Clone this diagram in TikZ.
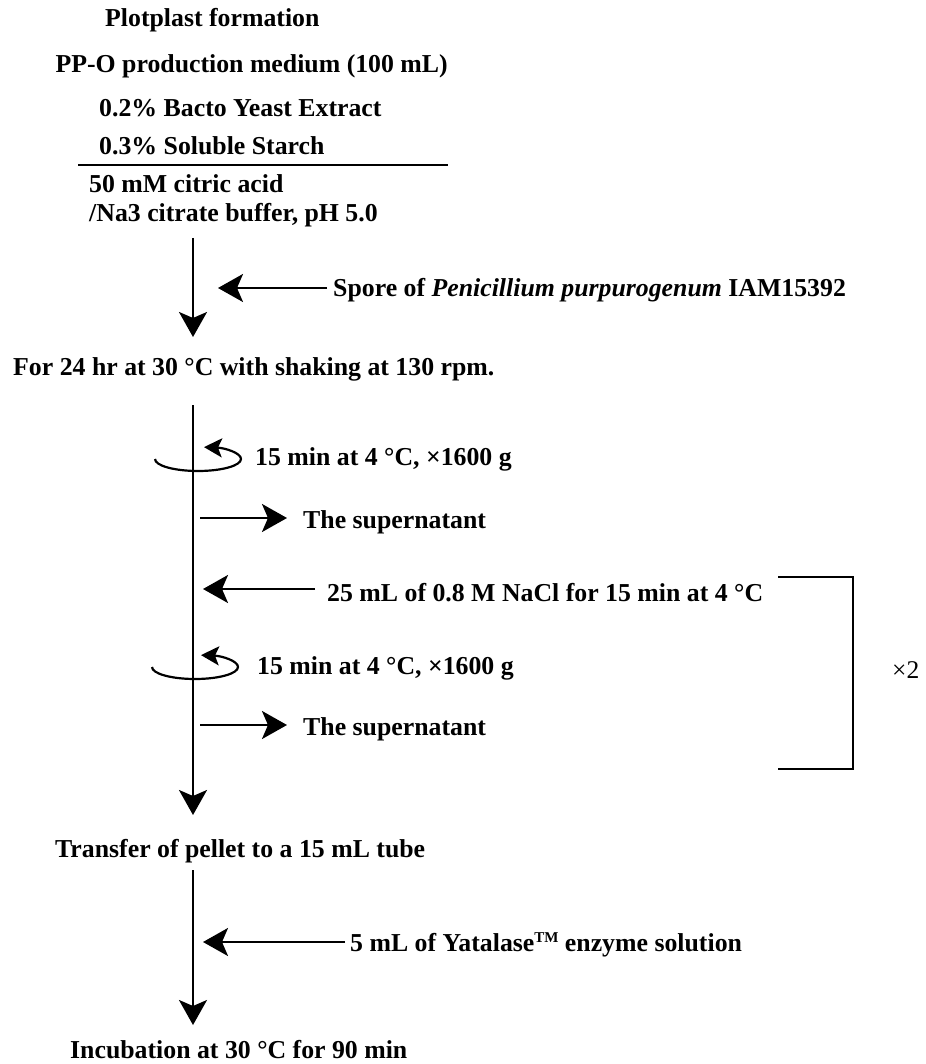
\documentclass[tikz,border=0pt]{standalone}
\usepackage{fontspec}
\setmainfont{Liberation Serif}
\usetikzlibrary{arrows.meta}
\begin{document}
\begin{tikzpicture}[x=1pt,y=1pt,
  lbl/.style={anchor=base west,inner sep=0pt,font=\fontsize{25.8}{30}\selectfont\bfseries},
  plain/.style={anchor=base west,inner sep=0pt,font=\fontsize{25.5}{30}\selectfont},
  ln/.style={line width=2.4pt},
  arr/.style={line width=2.4pt,-{Stealth[length=25pt,width=28pt,inset=6pt]}},
  rot/.style={line width=2.2pt,-{Stealth[length=18pt,width=19pt,inset=4pt]}}]
\useasboundingbox (0,0) rectangle (925,-1064);
% header texts
\node[lbl] (title) at (105,-27) {Plotplast formation};
\node[lbl,anchor=base east] (medium) at (448,-73) {PP-O production medium (100 mL)};
\node[lbl] (yeast) at (99,-117) {0.2\% Bacto Yeast Extract};
\node[lbl] (starch) at (99,-155) {0.3\% Soluble Starch};
\coordinate (ruleL) at (78,-165);
\coordinate (ruleR) at (448,-165);
\draw[ln] (ruleL) -- (ruleR);
\node[lbl] (buf1) at (89,-193) {50 mM citric acid};
\node[lbl] (buf2) at (89,-222) {/Na3 citrate buffer, pH 5.0};
% step 1
\coordinate (a1s) at (193,-238);
\coordinate (a1e) at (193,-337);
\draw[arr] (a1s) -- (a1e);
\node[lbl] (spore) at (333,-297) {Spore of \textit{Penicillium purpurogenum} IAM15392};
\coordinate (sporeT) at (327,-288);
\coordinate (sporeH) at (218,-288);
\draw[arr] (sporeT) -- (sporeH);
\node[lbl] (culture) at (13,-375) {For 24 hr at 30 °C with shaking at 130 rpm.};
% step 2
\coordinate (a2s) at (193,-405);
\coordinate (a2e) at (193,-815);
\draw[arr] (a2s) -- (a2e);
\coordinate (rot1) at (155,-459);
\draw[rot] (rot1) arc[start angle=180,end angle=442,x radius=43,y radius=12];
\node[lbl] (cent1) at (255,-465) {15 min at 4 °C, ×1600 g};
\coordinate (sup1s) at (200,-518);
\coordinate (sup1e) at (287,-518);
\draw[arr] (sup1s) -- (sup1e);
\node[lbl] (sup1) at (303,-528) {The supernatant};
\coordinate (naclT) at (315,-589);
\coordinate (naclH) at (203,-589);
\draw[arr] (naclT) -- (naclH);
\node[lbl] (nacl) at (327,-601) {25 mL of 0.8 M NaCl for 15 min at 4 °C};
\coordinate (rot2) at (152,-667);
\draw[rot] (rot2) arc[start angle=180,end angle=442,x radius=43,y radius=12];
\node[lbl] (cent2) at (257,-674) {15 min at 4 °C, ×1600 g};
\coordinate (sup2s) at (200,-725);
\coordinate (sup2e) at (287,-725);
\draw[arr] (sup2s) -- (sup2e);
\node[lbl] (sup2) at (303,-735) {The supernatant};
% bracket
\coordinate (brA) at (778,-577);
\coordinate (brB) at (853,-577);
\coordinate (brC) at (853,-769);
\coordinate (brD) at (778,-769);
\draw[ln] (brA) -- (brB) -- (brC) -- (brD);
\node[plain] (times2) at (892,-678) {×2};
% step 3
\node[lbl] (transfer) at (55,-857) {Transfer of pellet to a 15 mL tube};
\coordinate (a3s) at (193,-870);
\coordinate (a3e) at (193,-1025);
\draw[arr] (a3s) -- (a3e);
\coordinate (yatT) at (345,-942);
\coordinate (yatH) at (203,-942);
\draw[arr] (yatT) -- (yatH);
\node[lbl] (yat) at (350,-951) {5 mL of Yatalase\raisebox{9pt}{\fontsize{15}{15}\selectfont TM} enzyme solution};
\node[lbl] (incub) at (70,-1058) {Incubation at 30 °C for 90 min};
\end{tikzpicture}
\end{document}
